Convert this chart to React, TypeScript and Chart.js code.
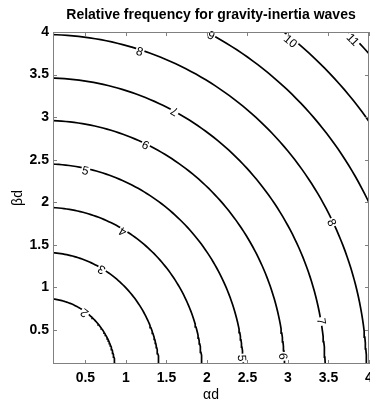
import React, { useEffect, useRef } from 'react';
import { Chart, registerables } from 'chart.js';

Chart.register(...registerables);

// Contour levels (relative frequency) and the radius of each contour
const levels = [2, 3, 4, 5, 6, 7, 8, 9, 10, 11];
const radii = [0.87, 1.41, 1.94, 2.45, 2.96, 3.46, 3.97, 4.47, 4.97, 5.48];

// Axis ticks
const xTicks = [0.5, 1, 1.5, 2, 2.5, 3, 3.5, 4];
const yTicks = [0.5, 1, 1.5, 2, 2.5, 3, 3.5, 4];

// Inline contour labels (data coordinates)
const labelText = ['2', '3', '4', '5', '6', '7', '8', '9', '10', '11', '5', '6', '7', '8'];
const labelX = [0.49, 0.7, 0.96, 0.5, 1.24, 1.6, 1.17, 2.05, 3.03, 3.8, 2.43, 2.94, 3.41, 3.54];
const labelY = [0.7, 1.21, 1.655, 2.37, 2.67, 3.07, 3.77, 3.96, 3.89, 3.91, 0.17, 0.19, 0.6, 1.76];
const labelFlip = [true, true, true, false, false, true, false, false, false, false, false, false, false, false];

const FONT = '"Liberation Sans", Arial, Helvetica, sans-serif';

function arc(r: number) {
  const pts: { x: number; y: number }[] = [];
  for (let d = 0; d <= 90; d += 1) {
    const t = (d * Math.PI) / 180;
    pts.push({ x: r * Math.cos(t), y: r * Math.sin(t) });
  }
  return pts;
}

const overlay = {
  id: 'overlay',
  afterDatasetsDraw(chart: any) {
    const { ctx, chartArea: a, scales } = chart;
    const x = scales.x;
    const y = scales.y;
    const sx = x.getPixelForValue(1) - x.getPixelForValue(0);
    const sy = y.getPixelForValue(0) - y.getPixelForValue(1);
    ctx.save();
    ctx.font = `12px ${FONT}`;
    ctx.textAlign = 'center';
    ctx.textBaseline = 'middle';
    labelText.forEach((t, i) => {
      const px = x.getPixelForValue(labelX[i]);
      const py = y.getPixelForValue(labelY[i]);
      let ang = Math.atan2(labelX[i] * sy, labelY[i] * sx);
      if (labelFlip[i]) ang += Math.PI;
      ctx.save();
      ctx.translate(px, py);
      ctx.rotate(ang);
      const w = ctx.measureText(t).width;
      ctx.fillStyle = '#fff';
      ctx.fillRect(-w / 2 - 1, -4.5, w + 2, 9);
      ctx.fillStyle = '#000';
      ctx.fillText(t, 0, 0.5);
      ctx.restore();
    });
    ctx.strokeStyle = '#808080';
    ctx.lineWidth = 1;
    ctx.strokeRect(a.left + 0.5, a.top + 0.5, a.right - a.left - 1, a.bottom - a.top - 1);
    ctx.beginPath();
    xTicks.forEach((v) => {
      const px = Math.round(x.getPixelForValue(v)) + 0.5;
      ctx.moveTo(px, a.bottom);
      ctx.lineTo(px, a.bottom - 4);
      ctx.moveTo(px, a.top);
      ctx.lineTo(px, a.top + 4);
    });
    yTicks.forEach((v) => {
      const py = Math.round(y.getPixelForValue(v)) + 0.5;
      ctx.moveTo(a.left, py);
      ctx.lineTo(a.left + 4, py);
      ctx.moveTo(a.right, py);
      ctx.lineTo(a.right - 4, py);
    });
    ctx.stroke();
    ctx.restore();
  },
};

export default function App() {
  const ref = useRef<HTMLCanvasElement>(null);
  useEffect(() => {
    if (!ref.current) return;
    const tickFont = { family: FONT, size: 14, weight: 'bold' as const };
    const chart = new Chart(ref.current, {
      type: 'scatter',
      data: {
        datasets: levels.map((lv, i) => ({
          label: String(lv),
          data: arc(radii[i]),
          showLine: true,
          borderColor: '#000',
          borderWidth: 1.7,
          pointRadius: 0,
          fill: false,
          tension: 0,
        })),
      },
      options: {
        responsive: false,
        animation: false,
        events: [],
        layout: { padding: { left: 0, right: 1, top: 0, bottom: 0 } },
        plugins: {
          legend: { display: false },
          tooltip: { enabled: false },
          title: {
            display: true,
            text: 'Relative frequency for gravity-inertia waves',
            fullSize: false,
            color: '#000',
            font: { family: FONT, size: 14, weight: 'bold', lineHeight: 1.2 },
            padding: { top: 7, bottom: 8.2 },
          },
        },
        scales: {
          x: {
            type: 'linear',
            min: 0.1,
            max: 4,
            afterBuildTicks: (s: any) => {
              s.ticks = xTicks.map((v) => ({ value: v }));
            },
            afterFit: (s: any) => {
              s.height = 41;
              s.paddingLeft = 0;
              s.paddingRight = 0;
            },
            grid: { display: false, drawTicks: false },
            border: { display: false },
            ticks: {
              color: '#000',
              font: tickFont,
              padding: 6,
              maxRotation: 0,
              autoSkip: false,
              callback: (v: any) => String(v),
            },
            title: {
              display: true,
              text: 'αd',
              color: '#000',
              font: { family: FONT, size: 14, lineHeight: 1.2 },
              padding: { top: 0, bottom: 1.6 },
            },
          },
          y: {
            type: 'linear',
            min: 0.1,
            max: 4,
            afterBuildTicks: (s: any) => {
              s.ticks = yTicks.map((v) => ({ value: v }));
            },
            afterFit: (s: any) => {
              s.width = 53;
              s.paddingTop = 0;
              s.paddingBottom = 0;
            },
            grid: { display: false, drawTicks: false },
            border: { display: false },
            ticks: {
              color: '#000',
              font: tickFont,
              padding: 4,
              autoSkip: false,
              callback: (v: any) => String(v),
            },
            title: {
              display: true,
              text: 'βd',
              color: '#000',
              font: { family: FONT, size: 14, lineHeight: 1.2 },
              padding: { top: 10, bottom: 0 },
            },
          },
        },
      },
      plugins: [overlay],
    });
    return () => chart.destroy();
  }, []);
  return (
    <div style={{ position: 'absolute', left: 0, top: 0, width: 370, height: 405, background: '#fff' }}>
      <canvas ref={ref} width={370} height={405} style={{ display: 'block' }} />
    </div>
  );
}
